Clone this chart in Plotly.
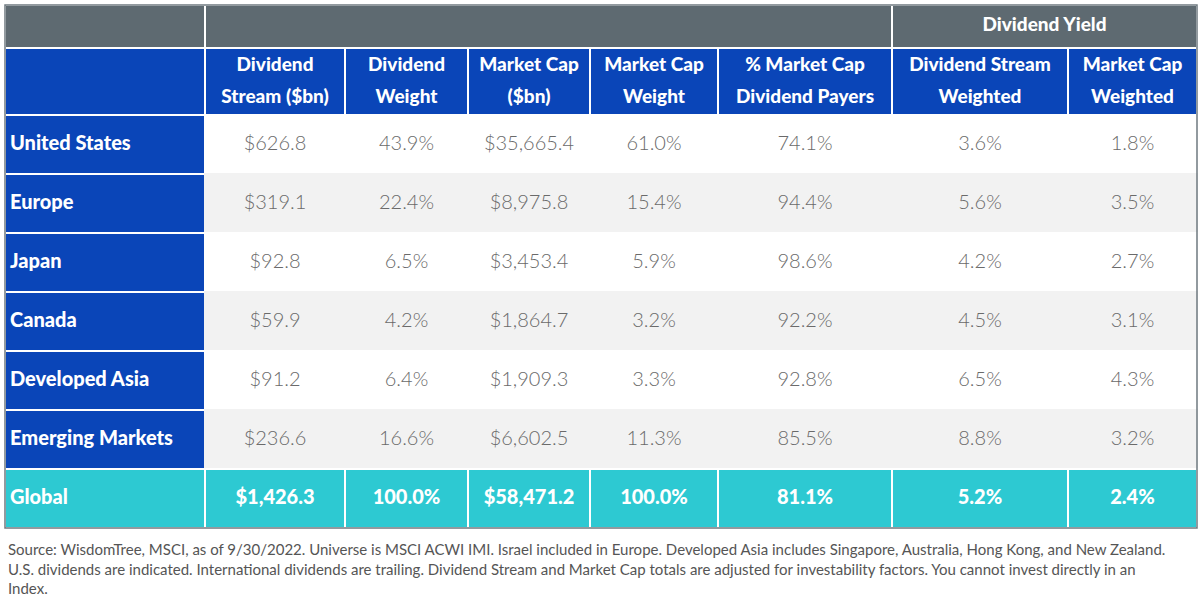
import plotly.graph_objects as go

# ---- data ----
regions = ["United States", "Europe", "Japan", "Canada", "Developed Asia",
           "Emerging Markets", "Global"]
dividend_stream = ["$626.8", "$319.1", "$92.8", "$59.9", "$91.2", "$236.6", "$1,426.3"]
dividend_weight = ["43.9%", "22.4%", "6.5%", "4.2%", "6.4%", "16.6%", "100.0%"]
market_cap = ["$35,665.4", "$8,975.8", "$3,453.4", "$1,864.7", "$1,909.3",
              "$6,602.5", "$58,471.2"]
market_cap_weight = ["61.0%", "15.4%", "5.9%", "3.2%", "3.3%", "11.3%", "100.0%"]
pct_div_payers = ["74.1%", "94.4%", "98.6%", "92.2%", "92.8%", "85.5%", "81.1%"]
yield_div_weighted = ["3.6%", "5.6%", "4.2%", "4.5%", "6.5%", "8.8%", "5.2%"]
yield_mcap_weighted = ["1.8%", "3.5%", "2.7%", "3.1%", "4.3%", "3.2%", "2.4%"]

header_top = ["", "Dividend", "Dividend", "Market Cap", "Market Cap", "% Market Cap",
              "Dividend Stream", "Market Cap"]
header_bottom = ["", "Stream ($bn)", "Weight", "($bn)", "Weight", "Dividend Payers",
                 "Weighted", "Weighted"]
group_headers = ["", "", "Dividend Yield"]

source_lines = [
    "Source: WisdomTree, MSCI, as of 9/30/2022. Universe is MSCI ACWI IMI. Israel included in Europe. "
    "Developed Asia includes Singapore, Australia, Hong Kong, and New Zealand.",
    "U.S. dividends are indicated. International dividends are trailing. Dividend Stream and Market Cap "
    "totals are adjusted for investability factors. You cannot invest directly in an",
    "Index.",
]

# ---- styling ----
W, H = 1200, 611
GRAY = "#5e6a71"
BLUE = "#0a45b8"
TEAL = "#2dc9d2"
LIGHT = "#f2f2f2"
TXT = "#6a6a6a"
CLEAR = "rgba(0,0,0,0)"
FONT = "Lato"
HSIZE = 19
BSIZE = 20

TOP, GROUP_H, HEAD_H, ROW_H = 5, 43, 67, 59
LEFT, RIGHT = 5, 1197
TEXT_DY = 12                          # tables put text near the top; push it to mid-cell
col_px = [200, 140, 123, 122, 128, 174, 176, 129]
group_px = [200, 687, 305]
text_px = [203] + col_px[1:]          # first-column text sits closer to the edge


def ydom(top_px, bottom_px):
    return [1 - bottom_px / H, 1 - top_px / H]


def xdom(left_px, right_px):
    return [left_px / W, right_px / W]


data_cols = [dividend_stream, dividend_weight, market_cap, market_cap_weight,
             pct_div_payers, yield_div_weighted, yield_mcap_weighted]
n = len(regions)
ncol = len(col_px)

row_fill = [("white" if i % 2 == 0 else LIGHT) for i in range(n - 1)] + [TEAL]
first_fill = [BLUE] * (n - 1) + [TEAL]
fills = [first_fill] + [row_fill] * len(data_cols)
line_colors = [["white"] * n] + [row_fill[:-1] + ["white"]] * len(data_cols)

values = [regions] + data_cols
body_colors = ["white"] + [TXT] * len(data_cols)
body_weights = [900] + [300] * len(data_cols)
body_align = ["left"] + ["center"] * len(data_cols)

head_top = TOP + GROUP_H
body_top = head_top + HEAD_H
total_top = body_top + ROW_H * (n - 1)
table_bottom = body_top + ROW_H * n

no_line = dict(color=CLEAR, width=0)

fig = go.Figure()

# ---- backgrounds ----
fig.add_trace(go.Table(
    domain=dict(x=xdom(LEFT, RIGHT), y=ydom(TOP, head_top)),
    columnwidth=group_px,
    header=dict(values=[" ", " ", " "], fill_color=GRAY, line=dict(color="white", width=1.5),
                height=GROUP_H),
    cells=dict(values=[[], [], []]),
))
fig.add_trace(go.Table(
    domain=dict(x=xdom(LEFT, RIGHT), y=ydom(head_top, table_bottom)),
    columnwidth=col_px,
    header=dict(values=[" "] * ncol, fill_color=BLUE, line=dict(color="white", width=1.5),
                height=HEAD_H),
    cells=dict(values=[[" "] * n for _ in range(ncol)], fill_color=fills,
               line=dict(color=line_colors, width=1.5), height=ROW_H),
))

# ---- text layers ----
fig.add_trace(go.Table(
    domain=dict(x=xdom(LEFT, RIGHT), y=ydom(TOP + 4, head_top + 4)),
    columnwidth=group_px,
    header=dict(values=group_headers, fill_color=CLEAR, line=no_line,
                font=dict(family=FONT, size=HSIZE, color="white", weight=900),
                align="center", height=GROUP_H),
    cells=dict(values=[[], [], []]),
))
fig.add_trace(go.Table(
    domain=dict(x=xdom(LEFT, RIGHT), y=ydom(head_top + 1, body_top + 1)),
    columnwidth=col_px,
    header=dict(values=header_top, fill_color=CLEAR, line=no_line,
                font=dict(family=FONT, size=HSIZE, color="white", weight=900),
                align="center", height=32),
    cells=dict(values=[[b] for b in header_bottom], fill_color=CLEAR, line=no_line,
               font=dict(family=FONT, size=HSIZE, color="white", weight=900),
               align="center", height=32),
))
# region rows (first row rides in the header slot)
fig.add_trace(go.Table(
    domain=dict(x=xdom(LEFT - 3, RIGHT), y=ydom(body_top + TEXT_DY, total_top + TEXT_DY)),
    columnwidth=text_px,
    header=dict(values=[v[0] for v in values], fill_color=CLEAR, line=no_line,
                font=dict(family=FONT, size=BSIZE, color=body_colors, weight=body_weights),
                align=body_align, height=ROW_H),
    cells=dict(values=[v[1:n - 1] for v in values], fill_color=CLEAR, line=no_line,
               font=dict(family=FONT, size=BSIZE, color=body_colors, weight=body_weights),
               align=body_align, height=ROW_H),
))
# global total row
fig.add_trace(go.Table(
    domain=dict(x=xdom(LEFT - 3, RIGHT), y=ydom(total_top + TEXT_DY, table_bottom + TEXT_DY)),
    columnwidth=text_px,
    header=dict(values=[v[-1] for v in values], fill_color=CLEAR, line=no_line,
                font=dict(family=FONT, size=BSIZE, color="white", weight=900),
                align=body_align, height=ROW_H),
    cells=dict(values=[[] for _ in range(ncol)]),
))

# outer frame
fig.add_shape(type="rect", xref="paper", yref="paper",
              x0=LEFT / W, x1=RIGHT / W, y0=1 - table_bottom / H, y1=1 - TOP / H,
              line=dict(color="#6f7a80", width=1.5), fillcolor=CLEAR)

fig.add_annotation(text="<br>".join(source_lines), xref="paper", yref="paper",
                   x=6 / W, y=1 - 538 / H, xanchor="left", yanchor="top", align="left",
                   showarrow=False, font=dict(family=FONT, size=15, color="#555555"))

fig.update_layout(width=W, height=H, margin=dict(l=0, r=0, t=0, b=0),
                  paper_bgcolor="white", plot_bgcolor="white")

fig.write_html("out.html", config={"displayModeBar": False},
               post_script="document.body.style.margin='0px';")
